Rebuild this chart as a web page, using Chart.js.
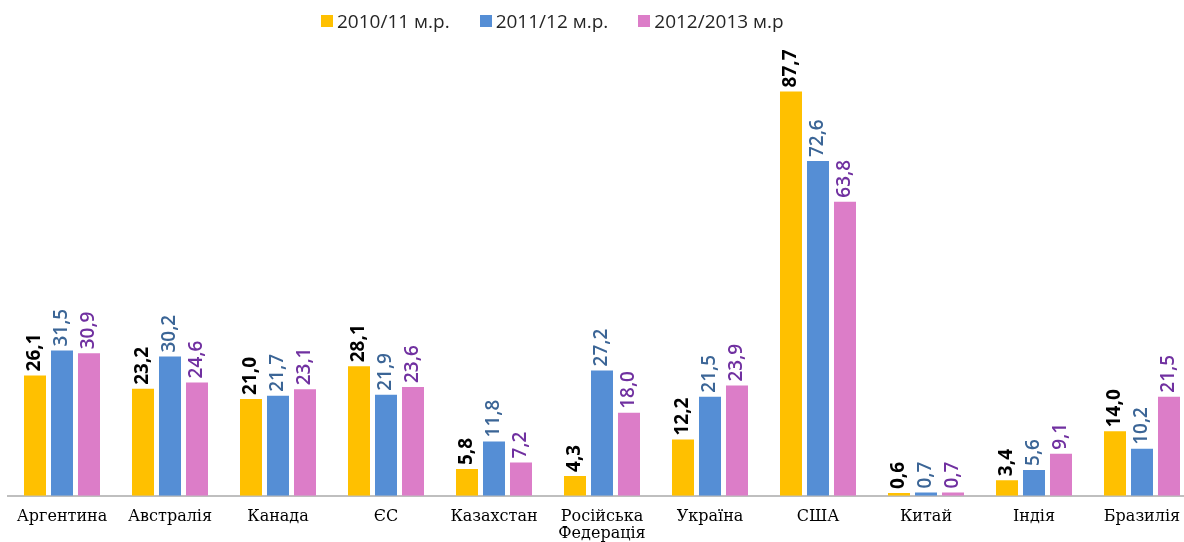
<!DOCTYPE html>
<html>
<head>
<meta charset="utf-8">
<script src="https://cdn.jsdelivr.net/npm/chart.js@4/dist/chart.umd.min.js"></script>
<style>
  html, body { margin: 0; padding: 0; background: #fff; overflow: hidden; }
  #wrap { position: relative; width: 1200px; height: 542px; overflow: hidden; }
  #legend { position: absolute; top: 8px; left: 321px; display: flex; font-family: "Open Sans", sans-serif; font-size: 19px; color: #262626; }
  #legend .item { display: flex; align-items: center; margin-right: 30px; }
  #legend .box { width: 12px; height: 12px; margin-right: 4px; }
</style>
</head>
<body>
<div id="wrap">
  <div id="legend"></div>
  <canvas id="myChart" width="1200" height="555"></canvas>
</div>
<script>
// країни
const kraini = ['Аргентина', 'Австралія', 'Канада', 'ЄС', 'Казахстан', ['Російська', 'Федерація'], 'Україна', 'США', 'Китай', 'Індія', 'Бразилія'];

const sezony = ['2010/11 м.р.', '2011/12 м.р.', '2012/2013 м.р'];

const znach2010 = [26.1, 23.2, 21.0, 28.1, 5.8, 4.3, 12.2, 87.7, 0.6, 3.4, 14.0];
const znach2011 = [31.5, 30.2, 21.7, 21.9, 11.8, 27.2, 21.5, 72.6, 0.7, 5.6, 10.2];
const znach2012 = [30.9, 24.6, 23.1, 23.6, 7.2, 18.0, 23.9, 63.8, 0.7, 9.1, 21.5];

const kolory = ['#FFC000', '#558ED5', '#DC7DC8'];
const koloryPidpysiv = ['#000000', '#3B6596', '#7030A0'];

// підписи над стовпчиками
const pidpysy = {
    id: 'pidpysy',
    afterDatasetsDraw(chart) {
        const ctx = chart.ctx;
        chart.data.datasets.forEach((ds, i) => {
            const meta = chart.getDatasetMeta(i);
            meta.data.forEach((bar, j) => {
                const txt = ds.data[j].toFixed(1).replace('.', ',');
                ctx.save();
                ctx.translate(bar.x, bar.y - 4);
                ctx.rotate(-Math.PI / 2);
                ctx.font = (i === 0 ? 'bold ' : '600 ') + '19px "Open Sans", sans-serif';
                ctx.fillStyle = koloryPidpysiv[i];
                ctx.textAlign = 'left';
                ctx.textBaseline = 'middle';
                ctx.fillText(txt, 0, 0);
                ctx.restore();
            });
        });
    }
};

const ctx = document.getElementById('myChart').getContext('2d');
const chart = new Chart(ctx, {
    type: 'bar',
    data: {
        labels: kraini,
        datasets: [
            { label: sezony[0], data: znach2010, backgroundColor: kolory[0] },
            { label: sezony[1], data: znach2011, backgroundColor: kolory[1] },
            { label: sezony[2], data: znach2012, backgroundColor: kolory[2] }
        ]
    },
    options: {
        responsive: false,
        animation: false,
        categoryPercentage: 0.75,
        barPercentage: 0.815,
        layout: { padding: { left: 8, right: 4, top: 44, bottom: 0 } },
        plugins: {
            legend: { display: false },
            tooltip: { enabled: false }
        },
        scales: {
            x: {
                grid: { display: true, drawOnChartArea: false, drawTicks: false },
                border: { display: true, color: '#BFBFBF', width: 2 },
                ticks: {
                    color: '#000',
                    padding: 12,
                    maxRotation: 0,
                    autoSkip: false,
                    font: { family: '"DejaVu Serif", serif', size: 16, lineHeight: 1.1 }
                }
            },
            y: {
                display: false,
                min: 0,
                max: 98
            }
        }
    },
    plugins: [pidpysy]
});

// легенда
const leg = document.getElementById('legend');
chart.data.datasets.forEach(ds => {
    const item = document.createElement('div');
    item.className = 'item';
    item.innerHTML = `<span class="box" style="background:${ds.backgroundColor}"></span><span>${ds.label}</span>`;
    leg.appendChild(item);
});
</script>
</body>
</html>
